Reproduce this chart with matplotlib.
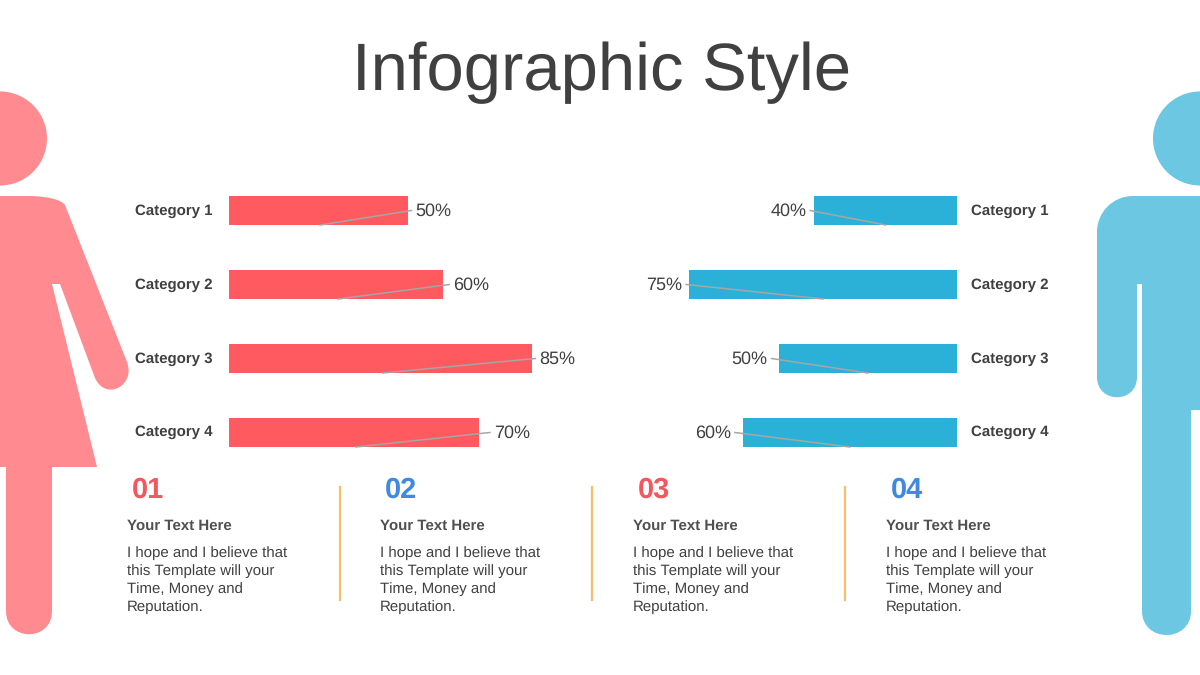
import matplotlib
matplotlib.use("Agg")
import matplotlib.pyplot as plt
from matplotlib.patches import Circle, PathPatch
from matplotlib.path import Path

plt.rcParams['font.family'] = ['Liberation Sans', 'DejaVu Sans']
plt.rcParams['text.hinting'] = 'no_hinting'
plt.rcParams['text.hinting_factor'] = 1

categories = ["Category 1", "Category 2", "Category 3", "Category 4"]
women = [50, 60, 85, 70]
men = [40, 75, 50, 60]
numbers = ["01", "02", "03", "04"]
number_colors = ["#F4585F", "#3F8AE0", "#F4585F", "#3F8AE0"]
heading = "Your Text Here"
body = ["I hope and I believe that", "this Template will your", "Time, Money and", "Reputation."]

RED = "#FF5A5F"
BLUE = "#2BB1D8"
PINK = "#FF8A8F"
SKY = "#6BC7E2"
DARK = "#404040"
LINE = "#A6A6A6"
W, H = 1200, 675
PX = 3.57  # pixels per percent
BAR_H = 29 / 74


def bars(fig, left, right, values, color, flip, gaps, nudge):
    ax = fig.add_axes([left / W, 1 - 469.5 / H, (right - left) / W, 296 / H])
    ax.barh(range(4), values, height=BAR_H, color=color)
    ax.set_xlim((100, 0) if flip else (0, 100))
    ax.set_ylim(3.5, -0.5)
    ax.axis("off")
    for i, v in enumerate(values):
        gap = gaps[i] / PX
        ax.plot([v / 2 + nudge / PX, v + gap], [i + BAR_H / 2, i], color=LINE, lw=1.1, clip_on=False)
        ax.annotate(f"{v}%", (v + gap, i), xytext=(-4 if flip else 4, -1),
                    textcoords="offset pixels", ha="right" if flip else "left", va="center",
                    fontsize=13, color=DARK, annotation_clip=False)


def woman(ax):
    ax.add_patch(Circle((0, 138.5), 47, fc=PINK, lw=0))
    verts = [(0, 196), (30, 196), (30, 196), (58, 196), (65, 205),
             (127, 362), (136, 385), (106, 402), (95, 378), (60, 284), (52, 284),
             (97, 467), (52, 467), (52, 611), (52, 642), (6, 642), (6, 611),
             (6, 467), (0, 467), (0, 196)]
    codes = [Path.MOVETO, Path.LINETO, Path.CURVE4, Path.CURVE4, Path.CURVE4,
             Path.LINETO, Path.CURVE4, Path.CURVE4, Path.CURVE4, Path.LINETO, Path.LINETO,
             Path.LINETO, Path.LINETO, Path.LINETO, Path.CURVE4, Path.CURVE4, Path.CURVE4,
             Path.LINETO, Path.LINETO, Path.CLOSEPOLY]
    ax.add_patch(PathPatch(Path(verts, codes), fc=PINK, lw=0))


def man(ax):
    ax.add_patch(Circle((1200, 138.5), 47, fc=SKY, lw=0))
    verts = [(1200, 196), (1133, 196), (1113, 196), (1097, 212), (1097, 232),
             (1097, 377), (1097, 404), (1137, 404), (1137, 377), (1137, 284), (1142, 284),
             (1142, 611), (1142, 643), (1191, 643), (1191, 611),
             (1191, 410), (1200, 410), (1200, 196)]
    codes = [Path.MOVETO, Path.LINETO, Path.CURVE4, Path.CURVE4, Path.CURVE4,
             Path.LINETO, Path.CURVE4, Path.CURVE4, Path.CURVE4, Path.LINETO, Path.LINETO,
             Path.LINETO, Path.CURVE4, Path.CURVE4, Path.CURVE4,
             Path.LINETO, Path.LINETO, Path.CLOSEPOLY]
    ax.add_patch(PathPatch(Path(verts, codes), fc=SKY, lw=0))


fig = plt.figure(figsize=(12, 6.75), dpi=100)
page = fig.add_axes([0, 0, 1, 1])
page.set_xlim(0, W)
page.set_ylim(H, 0)
page.axis("off")

page.text(602, 73, "Infographic Style", ha="center", va="center", fontsize=48, color=DARK)
woman(page)
man(page)

bars(fig, 229, 229 + 100 * PX, women, RED, False, [4, 6, 3, 11], 2)
bars(fig, 957 - 100 * PX, 957, men, BLUE, True, [4, 3, 7, 8], 0)

for i, name in enumerate(categories):
    y = 211 + i * 73.8
    page.text(135, y, name, ha="left", va="center", fontsize=10.9, fontweight="bold", color=DARK)
    page.text(971, y, name, ha="left", va="center", fontsize=10.9, fontweight="bold", color=DARK)

for i, x in enumerate([127, 380, 633, 886]):
    page.text(x + 5, 490, numbers[i], ha="left", va="center", fontsize=21,
              fontweight="bold", color=number_colors[i])
    page.text(x, 525.5, heading, ha="left", va="center", fontsize=10.6, fontweight="bold", color="#505050")
    for j, line in enumerate(body):
        page.text(x, 553 + j * 18, line, ha="left", va="center", fontsize=10.7, color=DARK)

for x in [340, 592, 845]:
    page.plot([x, x], [487, 600], color="#F5BE6B", lw=1.6)

fig.savefig("out.png", dpi=100)
